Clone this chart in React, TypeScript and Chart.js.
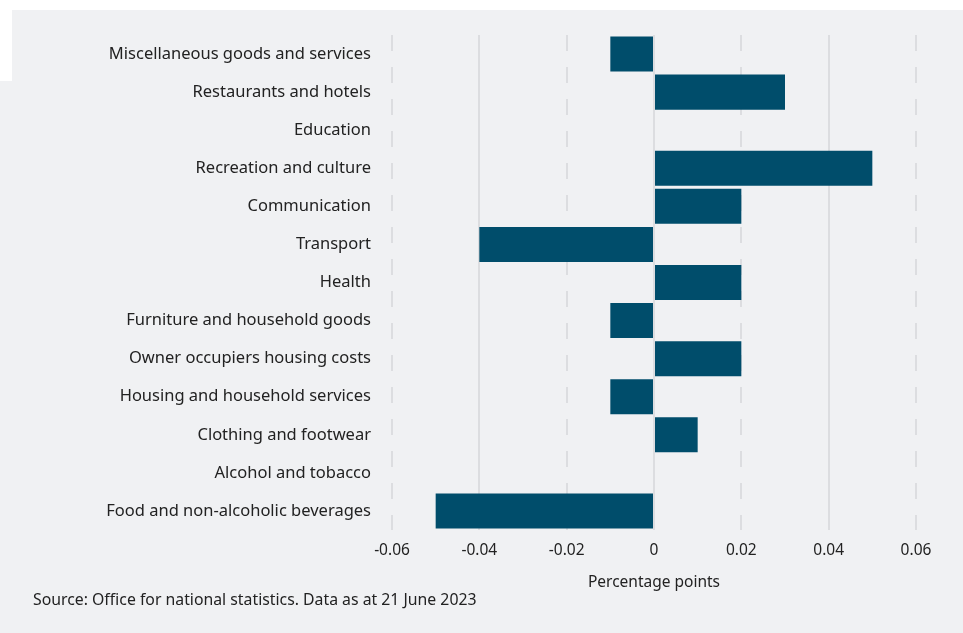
import React, { useEffect, useRef } from "react";
import { Chart, registerables } from "chart.js";

Chart.register(...registerables);

const categories = [
  "Miscellaneous goods and services",
  "Restaurants and hotels",
  "Education",
  "Recreation and culture",
  "Communication",
  "Transport",
  "Health",
  "Furniture and household goods",
  "Owner occupiers housing costs",
  "Housing and household services",
  "Clothing and footwear",
  "Alcohol and tobacco",
  "Food and non-alcoholic beverages",
];

const contributions = [-0.01, 0.03, 0, 0.05, 0.02, -0.04, 0.02, -0.01, 0.02, -0.01, 0.01, 0, -0.05];

const xMin = -0.06;
const xMax = 0.06;
const xStep = 0.02;

const axisTitle = "Percentage points";
const sourceText = "Source: Office for national statistics. Data as at 21 June 2023";

const FONT = "'Noto Sans', sans-serif";
const BG = "#f0f1f3";

export default function App() {
  const ref = useRef<HTMLCanvasElement | null>(null);

  useEffect(() => {
    if (!ref.current) return;
    const chart = new Chart(ref.current, {
      type: "bar",
      data: {
        labels: categories,
        datasets: [
          {
            data: contributions,
            backgroundColor: "#004d6b",
            borderWidth: 0,
            barPercentage: 1,
            categoryPercentage: 0.92,
          },
        ],
      },
      options: {
        indexAxis: "y",
        animation: false,
        responsive: false,
        maintainAspectRatio: false,
        layout: { padding: { top: 35, left: 0, right: 47, bottom: 0 } },
        plugins: {
          legend: { display: false },
          tooltip: { enabled: false },
        },
        scales: {
          x: {
            min: xMin,
            max: xMax,
            ticks: {
              stepSize: xStep,
              color: "#222",
              padding: 11,
              font: { family: FONT, size: 15.5 },
              callback: (v: any) => String(Number(Number(v).toFixed(2))),
            },
            grid: {
              drawTicks: false,
              color: "#dcdde0",
              lineWidth: 2,
            },
            border: {
              display: false,
              dash: (ctx: any) => (ctx.index % 2 === 0 ? [16, 16] : []),
            },
            title: {
              display: true,
              text: axisTitle,
              color: "#222",
              font: { family: FONT, size: 15.5 },
              padding: { top: 0, bottom: 41 },
            },
            afterFit: (scale: any) => {
              scale.height = 103;
            },
          },
          y: {
            ticks: {
              color: "#222",
              padding: 21,
              font: { family: FONT, size: 16.5 },
            },
            grid: { display: false, drawTicks: false },
            border: { display: false },
            afterFit: (scale: any) => {
              scale.width = 392;
            },
          },
        },
      },
    });
    return () => chart.destroy();
  }, []);

  return (
    <div style={{ position: "fixed", left: 0, top: 0, width: 963, height: 633, background: "#fff", overflow: "hidden" }}>
      <div style={{ position: "absolute", left: 12, top: 10, width: 951, height: 623, background: BG }} />
      <div style={{ position: "absolute", left: 0, top: 81, width: 963, height: 552, background: BG }} />
      <canvas ref={ref} width={963} height={633} style={{ position: "absolute", left: 0, top: 0, width: 963, height: 633 }} />
      <div
        style={{
          position: "absolute",
          left: 33,
          top: 589,
          fontFamily: FONT,
          fontSize: 15.8,
          color: "#222",
          lineHeight: "20px",
          whiteSpace: "nowrap",
        }}
      >
        {sourceText}
      </div>
    </div>
  );
}
